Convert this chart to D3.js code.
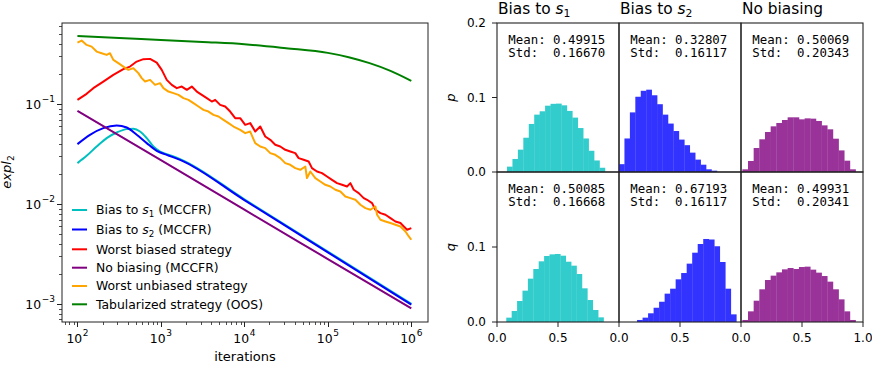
<!DOCTYPE html>
<html><head><meta charset="utf-8">
<script src="https://cdn.jsdelivr.net/npm/d3@7"></script>
<style>
body{margin:0;background:#fff}
svg{display:block}
text{font-family:"DejaVu Sans",sans-serif;fill:#000}
.mono{font-family:"DejaVu Sans Mono",monospace;white-space:pre}
</style>
</head><body><svg id="c" width="872" height="365" xmlns="http://www.w3.org/2000/svg"></svg>
<script>
// ---------------- DATA (left panel: log10(iterations), log10(expl2)) ----------------
const seriesLabels = [
  ["Bias to ", "s", "1", " (MCCFR)"],
  ["Bias to ", "s", "2", " (MCCFR)"],
  ["Worst biased strategy"],
  ["No biasing (MCCFR)"],
  ["Worst unbiased strategy"],
  ["Tabularized strategy (OOS)"]
];

const biasS1LogIter = [2.0,2.11,2.23,2.35,2.47,2.59,2.67,2.75,2.83,2.91,2.99,3.07,3.23,4.0,5.0,6.0];
const biasS1LogExpl = [-1.59,-1.517,-1.424,-1.34,-1.284,-1.25,-1.247,-1.274,-1.34,-1.424,-1.474,-1.50,-1.55,-1.952,-2.475,-2.999];

const biasS2LogIter = [2.0,2.15,2.31,2.47,2.59,2.71,2.83,2.95,3.07,3.23,4.0,5.0,6.0];
const biasS2LogExpl = [-1.40,-1.307,-1.24,-1.214,-1.234,-1.307,-1.39,-1.467,-1.507,-1.557,-1.960,-2.483,-3.007];

const worstBiasedLogIter = [2.0,2.11,2.19,2.31,2.43,2.55,2.63,2.71,2.79,2.87,2.95,3.01,3.07,3.13,3.19,3.25,3.31,3.37,3.43,3.49,3.55,3.61,3.65,3.71,3.77,3.83,3.89,3.95,4.01,4.07,4.13,4.19,4.25,4.31,4.37,4.43,4.49,4.55,4.61,4.65,4.71,4.77,4.81,4.87,4.93,4.99,5.05,5.11,5.17,5.23,5.27,5.31,5.37,5.43,5.47,5.53,5.57,5.63,5.69,5.75,5.81,5.87,5.91,5.95,6.0];
const worstBiasedLogExpl = [-0.957,-0.897,-0.84,-0.774,-0.707,-0.65,-0.624,-0.574,-0.55,-0.547,-0.584,-0.657,-0.757,-0.807,-0.84,-0.824,-0.857,-0.824,-0.874,-0.907,-0.94,-0.974,-0.957,-1.007,-1.024,-1.074,-1.14,-1.14,-1.207,-1.19,-1.274,-1.224,-1.324,-1.357,-1.407,-1.424,-1.457,-1.474,-1.49,-1.54,-1.557,-1.574,-1.64,-1.674,-1.69,-1.724,-1.757,-1.79,-1.807,-1.824,-1.79,-1.857,-1.89,-1.94,-1.957,-1.99,-2.057,-2.09,-2.107,-2.14,-2.174,-2.19,-2.224,-2.257,-2.24];

const noBiasLogIter = [2.0,3.0,4.0,5.0,6.0];
const noBiasLogExpl = [-1.067,-1.561,-2.056,-2.55,-3.044];

const worstUnbiasedLogIter = [2.0,2.05,2.11,2.17,2.23,2.29,2.35,2.39,2.43,2.49,2.55,2.61,2.67,2.73,2.77,2.81,2.87,2.93,2.99,3.03,3.09,3.15,3.21,3.27,3.33,3.39,3.45,3.51,3.57,3.63,3.69,3.75,3.81,3.87,3.95,4.01,4.07,4.13,4.19,4.25,4.31,4.37,4.43,4.49,4.55,4.61,4.67,4.73,4.75,4.79,4.85,4.91,4.97,5.03,5.09,5.15,5.21,5.27,5.33,5.39,5.45,5.51,5.57,5.59,5.63,5.69,5.75,5.81,5.87,5.93,5.97,6.0];
const worstUnbiasedLogExpl = [-0.384,-0.364,-0.407,-0.424,-0.474,-0.49,-0.507,-0.49,-0.557,-0.59,-0.624,-0.657,-0.64,-0.69,-0.74,-0.774,-0.757,-0.807,-0.79,-0.84,-0.874,-0.89,-0.907,-0.94,-0.957,-0.99,-1.024,-1.057,-1.074,-1.107,-1.124,-1.157,-1.19,-1.224,-1.257,-1.29,-1.274,-1.39,-1.424,-1.44,-1.49,-1.507,-1.54,-1.59,-1.607,-1.64,-1.657,-1.624,-1.74,-1.674,-1.74,-1.774,-1.807,-1.824,-1.857,-1.874,-1.924,-1.94,-1.957,-2.007,-2.04,-2.057,-2.024,-2.107,-2.157,-2.174,-2.19,-2.207,-2.224,-2.274,-2.324,-2.357];

const tabularLogIter = [2.0,2.5,3.0,3.5,4.0,4.5,5.0,5.25,5.5,5.75,6.0];
const tabularLogExpl = [-0.317,-0.337,-0.357,-0.378,-0.40,-0.44,-0.487,-0.53,-0.59,-0.667,-0.767];

const xTickExps = [2,3,4,5,6];
const yTickExps = [-1,-2,-3];

// ---------------- DATA (right panels: histograms) ----------------
const histTitles = [["Bias to ","s","1"],["Bias to ","s","2"],["No biasing"]];
const histRowLabels = ["p","q"];
const histMean = [["0.49915","0.32807","0.50069"],["0.50085","0.67193","0.49931"]];
const histStd  = [["0.16670","0.16117","0.20343"],["0.16668","0.16117","0.20341"]];
// bin start (value) and bin width (value) for each histogram
const histBinStart = [[0.082,0.0,0.011],[0.076,0.148,0.011]];
const histBinWidth = [[0.0446,0.0446,0.0464],[0.0443,0.0452,0.0464]];
const pBiasS1 = [0.0072,0.0175,0.030,0.046,0.0645,0.077,0.0815,0.089,0.0915,0.0918,0.0895,0.082,0.073,0.059,0.045,0.0285,0.0155,0.0057];
const pBiasS2 = [0.0105,0.045,0.080,0.101,0.109,0.1105,0.103,0.091,0.077,0.065,0.055,0.0435,0.036,0.026,0.0166,0.0098,0.0036,0.0018];
const pNoBias = [0.0036,0.0148,0.0322,0.0439,0.0537,0.0613,0.0658,0.0698,0.0734,0.0734,0.0707,0.072,0.0716,0.0685,0.0626,0.0573,0.0447,0.029,0.0152,0.0036];
const qBiasS1 = [0.0058,0.0147,0.028,0.0418,0.0578,0.0707,0.0809,0.088,0.0902,0.0907,0.0884,0.0804,0.0751,0.064,0.0449,0.0293,0.016,0.0062];
const qBiasS2 = [0.0027,0.0058,0.0116,0.019,0.027,0.0378,0.0444,0.0569,0.0653,0.0778,0.0924,0.104,0.1107,0.110,0.101,0.080,0.0444,0.0102];
const qNoBias = [0.0027,0.0142,0.0284,0.0436,0.056,0.0618,0.0662,0.0702,0.072,0.0707,0.0733,0.0738,0.0698,0.0658,0.0613,0.0538,0.0436,0.0302,0.0142,0.0027];
const histYTicks = [[0,0.1,0.2],[0,0.1]];
const histXTicks = [[0,0.5],[0,0.5],[0,0.5,1.0]];

// ---------------- STYLES ----------------
const lineColors = ["#00bfbf","#0000ff","#ff0000","#800080","#ffa500","#008000"];
const histColors = ["#33cccc","#3333ff","#993399"];

// ---------------- DRAW ----------------
const svg = d3.select("#c");
svg.append("rect").attr("width",872).attr("height",365).attr("fill","#fff");

const A = {x0:62, x1:428, y0:23, y1:322};
const x = d3.scaleLog().domain([Math.pow(10,1.815), Math.pow(10,6.2)]).range([A.x0, A.x1]);
const y = d3.scaleLog().domain([Math.pow(10,-3.18), Math.pow(10,-0.188)]).range([A.y1, A.y0]);

svg.append("clipPath").attr("id","clipL").append("rect")
  .attr("x",A.x0).attr("y",A.y0).attr("width",A.x1-A.x0).attr("height",A.y1-A.y0);

const series = [
  [biasS1LogIter, biasS1LogExpl, true],
  [biasS2LogIter, biasS2LogExpl, true],
  [worstBiasedLogIter, worstBiasedLogExpl, false],
  [noBiasLogIter, noBiasLogExpl, true],
  [worstUnbiasedLogIter, worstUnbiasedLogExpl, false],
  [tabularLogIter, tabularLogExpl, true]
];
const gLines = svg.append("g").attr("clip-path","url(#clipL)");
series.forEach((s,i)=>{
  const pts = s[0].map((lx,j)=>[Math.pow(10,lx), Math.pow(10,s[1][j])]);
  const gen = d3.line().x(d=>x(d[0])).y(d=>y(d[1])).curve(s[2]?d3.curveMonotoneX:d3.curveLinear);
  gLines.append("path").attr("d",gen(pts)).attr("fill","none")
    .attr("stroke",lineColors[i]).attr("stroke-width",2).attr("stroke-linejoin","round");
});

// frame
svg.append("rect").attr("x",A.x0).attr("y",A.y0).attr("width",A.x1-A.x0).attr("height",A.y1-A.y0)
  .attr("fill","none").attr("stroke","#222").attr("stroke-width",1);

// x ticks
const xt = svg.append("g");
x.ticks().forEach(t=>{
  const lg = Math.log10(t);
  const major = Math.abs(lg-Math.round(lg))<1e-9;
  const px = Math.round(x(t))+0.5;
  xt.append("line").attr("x1",px).attr("x2",px).attr("y1",A.y1).attr("y2",A.y1+(major?5:3))
    .attr("stroke","#222").attr("stroke-width",major?1:0.8);
});
xTickExps.forEach(e=>{
  const t = xt.append("text").attr("x",x(Math.pow(10,e))).attr("y",343).attr("text-anchor","middle").attr("font-size",12.4);
  t.append("tspan").text("10");
  t.append("tspan").attr("dy",-6.8).attr("dx",0.6).attr("font-size",9).text(String(e));
});
svg.append("text").attr("x",(A.x0+A.x1)/2).attr("y",361).attr("text-anchor","middle").attr("font-size",13).text("iterations");

// y ticks
const yt = svg.append("g");
y.ticks().forEach(t=>{
  const lg = Math.log10(t);
  const major = Math.abs(lg-Math.round(lg))<1e-9;
  const py = Math.round(y(t))+0.5;
  yt.append("line").attr("x1",A.x0).attr("x2",A.x0-(major?5:3)).attr("y1",py).attr("y2",py)
    .attr("stroke","#222").attr("stroke-width",major?1:0.8);
});
yTickExps.forEach(e=>{
  const t = yt.append("text").attr("x",55).attr("y",y(Math.pow(10,e))+4.5).attr("text-anchor","end").attr("font-size",12.4);
  t.append("tspan").text("10");
  t.append("tspan").attr("dy",-6.8).attr("dx",0.6).attr("font-size",9).text("\u2212"+Math.abs(e));
});
const yl = svg.append("text").attr("transform","translate(11,172) rotate(-90)").attr("text-anchor","middle").attr("font-size",13);
yl.append("tspan").attr("font-style","italic").text("expl");
yl.append("tspan").attr("dy",3).attr("font-size",9).text("2");

// legend
const legY = [210,229.5,249.3,267.7,286,304.3];
seriesLabels.forEach((lab,i)=>{
  svg.append("line").attr("x1",72).attr("x2",87).attr("y1",legY[i]).attr("y2",legY[i])
    .attr("stroke",lineColors[i]).attr("stroke-width",2);
  const t = svg.append("text").attr("x",96).attr("y",legY[i]+4.4).attr("font-size",12.4);
  if(lab.length===1){ t.text(lab[0]); }
  else {
    t.append("tspan").text(lab[0]);
    t.append("tspan").attr("font-style","italic").text(lab[1]);
    t.append("tspan").attr("dy",2.6).attr("font-size",8.7).text(lab[2]);
    t.append("tspan").attr("dy",-2.6).text(lab[3]);
  }
});

// ---------------- histograms ----------------
const colX = [497,619,741], colW = 122;
const rowY = [[23,172],[172,322]];
const histData = [[pBiasS1,pBiasS2,pNoBias],[qBiasS1,qBiasS2,qNoBias]];

rowY.forEach((ry,r)=>{
  colX.forEach((cx,c)=>{
    const xs = d3.scaleLinear().domain([0,1]).range([cx,cx+colW]);
    const ys = d3.scaleLinear().domain([0,0.2]).range([ry[1],ry[0]]);
    const cid = "clipH"+r+c;
    svg.append("clipPath").attr("id",cid).append("rect").attr("x",cx).attr("y",ry[0]).attr("width",colW).attr("height",ry[1]-ry[0]);
    const g = svg.append("g").attr("clip-path","url(#"+cid+")");
    const st = histBinStart[r][c], bw = histBinWidth[r][c];
    histData[r][c].forEach((h,i)=>{
      const x0 = xs(st+i*bw), x1 = xs(st+(i+1)*bw);
      g.append("rect").attr("x",x0).attr("width",x1-x0+0.3).attr("y",ys(h)).attr("height",ys(0)-ys(h))
        .attr("fill",histColors[c]);
    });
    // text
    svg.append("text").attr("class","mono").attr("x",cx+11.3).attr("y",ry[0]+20.6).attr("font-size",12.4).text("Mean: "+histMean[r][c]);
    svg.append("text").attr("class","mono").attr("x",cx+11.3).attr("y",ry[0]+34).attr("font-size",12.4).text("Std:  "+histStd[r][c]);
    // frame
    svg.append("rect").attr("x",cx).attr("y",ry[0]).attr("width",colW).attr("height",ry[1]-ry[0])
      .attr("fill","none").attr("stroke","#222").attr("stroke-width",1.1);
    if(c===0){
      histYTicks[r].forEach(v=>{
        const py = ys(v);
        svg.append("line").attr("x1",cx).attr("x2",cx-5).attr("y1",py).attr("y2",py).attr("stroke","#222").attr("stroke-width",1);
        svg.append("text").attr("x",cx-11).attr("y",py+4.3).attr("text-anchor","end").attr("font-size",12).text(v.toFixed(1));
      });
      svg.append("text").attr("transform","translate(455,"+((ry[0]+ry[1])/2)+") rotate(-90)")
        .attr("text-anchor","middle").attr("font-size",13).attr("font-style","italic").text(histRowLabels[r]);
    }
    if(r===1){
      histXTicks[c].forEach(v=>{
        const px = xs(v);
        svg.append("line").attr("x1",px).attr("x2",px).attr("y1",ry[1]).attr("y2",ry[1]+5).attr("stroke","#222").attr("stroke-width",1);
        svg.append("text").attr("x",px).attr("y",342).attr("text-anchor","middle").attr("font-size",12).text(v.toFixed(1));
      });
    }
    if(r===0){
      const t = svg.append("text").attr("x",cx+1).attr("y",13.5).attr("font-size",15.4);
      const lab = histTitles[c];
      if(lab.length===1){ t.text(lab[0]); }
      else {
        t.append("tspan").text(lab[0]);
        t.append("tspan").attr("font-style","italic").text(lab[1]);
        t.append("tspan").attr("dy",3).attr("font-size",10.8).text(lab[2]);
      }
    }
  });
});
</script></body></html>
